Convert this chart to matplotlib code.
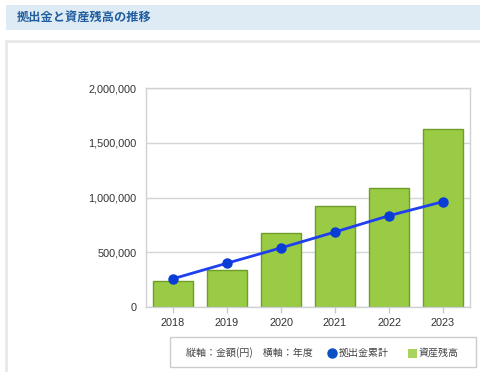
# -*- coding: utf-8 -*-

import matplotlib
matplotlib.use('Agg')
import matplotlib.pyplot as plt
from matplotlib.patches import Rectangle
from matplotlib.lines import Line2D
from matplotlib.ticker import FuncFormatter

plt.rcParams['font.family'] = ['Liberation Sans', 'Noto Sans CJK JP', 'DejaVu Sans']

# データ
years = ['2018', '2019', '2020', '2021', '2022', '2023']
assets = [240000, 340000, 680000, 920000, 1087000, 1630000]     # 資産残高
contrib = [258000, 400000, 540000, 685000, 834000, 962000]     # 拠出金累計
y_ticks = [0, 500000, 1000000, 1500000, 2000000]

title = '拠出金と資産残高の推移'
axis_note = '縦軸：金額(円)　横軸：年度'
label_line = '拠出金累計'
label_bar = '資産残高'

W, H = 480, 372
fig = plt.figure(figsize=(W / 100, H / 100), dpi=100)
fig.patch.set_facecolor('white')

def fx(px):
    return px / W

def fy(py):
    return 1 - py / H

# タイトル帯
fig.patches.append(Rectangle((fx(6), fy(30)), fx(474), 25 / H, transform=fig.transFigure,
                             facecolor='#deebf5', edgecolor='none', zorder=0))
fig.text(fx(17), fy(18), title, color='#1f5d9e', fontsize=8.8, fontweight='bold',
         family=['Noto Sans CJK JP', 'DejaVu Sans'], va='center', ha='left')

# 外枠
fig.lines.append(Line2D([fx(5.5), fx(5.5)], [fy(41), 0], transform=fig.transFigure,
                        color='#e8e8e8', lw=2))
fig.lines.append(Line2D([fx(5.5), 1], [fy(41), fy(41)], transform=fig.transFigure,
                        color='#e8e8e8', lw=2))

# グラフ
ax = fig.add_axes([fx(146), fy(307), fx(324), 219 / H])
x = range(len(years))
ax.bar(x, assets, width=0.74, color='#9acb44', edgecolor='#6f9e28', linewidth=1, zorder=2)
ax.plot(x, contrib, color='#1f3ff0', lw=2, marker='o', markersize=6.5,
        markerfacecolor='#0a3dd6', markeredgecolor='#0a3dd6', zorder=3)

ax.set_xlim(-0.5, len(years) - 0.5)
ax.set_ylim(0, 2000000)
ax.set_xticks(list(x))
ax.set_xticklabels(years)
ax.set_yticks(y_ticks)
ax.yaxis.set_major_formatter(FuncFormatter(lambda v, p: f'{int(v):,}'))
ax.grid(axis='y', color='#d3d6d9', lw=1, zorder=0)
ax.set_axisbelow(True)
for s in ax.spines.values():
    s.set_color('#cfd2d5')
    s.set_linewidth(1)
ax.tick_params(axis='y', length=0, pad=7, labelsize=7.8, labelcolor='#333333')
ax.tick_params(axis='x', length=4, width=1, color='#c8c8c8', pad=4, labelsize=7.8,
               labelcolor='#333333')

# 凡例
fig.patches.append(Rectangle((fx(170), fy(367)), fx(306), 30 / H, transform=fig.transFigure,
                             facecolor='white', edgecolor='#cccccc', lw=1))
ly = fy(353)
lfont = dict(fontsize=7.2, color='#444444', va='center', ha='left',
             family=['Noto Sans CJK JP', 'DejaVu Sans'])
fig.text(fx(186), ly, axis_note, **lfont)
fig.lines.append(Line2D([fx(332)], [ly], transform=fig.transFigure, marker='o',
                        markersize=6.5, color='#0a4fc4', linestyle='none'))
fig.text(fx(339), ly, label_line, **lfont)
fig.patches.append(Rectangle((fx(408), ly - 4.5 / H), fx(9), 9 / H, transform=fig.transFigure,
                             facecolor='#a8d35c', edgecolor='none'))
fig.text(fx(419), ly, label_bar, **lfont)

fig.savefig('out.png', dpi=100)
